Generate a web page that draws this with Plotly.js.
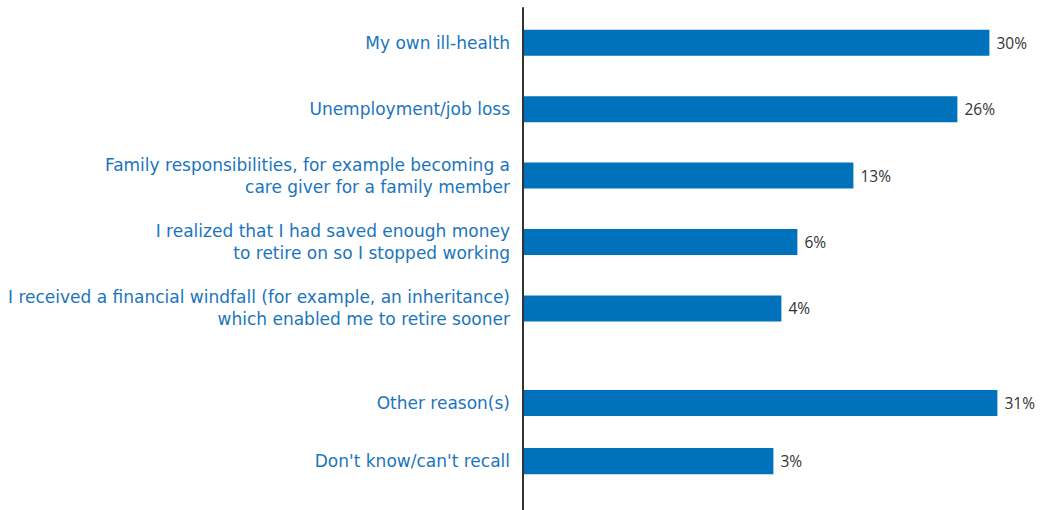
<!DOCTYPE html>
<html>
<head>
<meta charset="utf-8">
<script src="https://cdn.plot.ly/plotly-3.0.1.min.js"></script>
<style>html,body{margin:0;padding:0;background:#fff;}#chart{width:1040px;height:510px;}</style>
</head>
<body>
<div id="chart"></div>
<script>
// Reasons (main group)
const topCategories = [
  "My own ill-health",
  "Unemployment/job loss",
  "Family responsibilities, for example becoming a<br>care giver for a family member",
  "I realized that I had saved enough money<br>to retire on so I stopped working",
  "I received a financial windfall (for example, an inheritance)<br>which enabled me to retire sooner"
];
const topValues = [30, 26, 13, 6, 4];

// Other answers
const bottomCategories = ["Other reason(s)", "Don't know/can't recall"];
const bottomValues = [31, 3];

const barColor = "#0071bb";
const labelColor = "#1b75bc";
const valueColor = "#333333";
const labelFont = "'DejaVu Sans', sans-serif";
const valueFont = "'Open Sans', sans-serif";
const axisStart = -28.3;   // value axis starts below zero, bars drawn from the axis line

function pct(arr) { return arr.map(v => " " + v + "%"); }
function lengths(arr) { return arr.map(v => v - axisStart); }

const traces = [
  {
    type: "bar", orientation: "h",
    y: topCategories, x: lengths(topValues), base: axisStart,
    text: pct(topValues), textposition: "outside", cliponaxis: false,
    textfont: {family: valueFont, size: 15.5, color: valueColor},
    marker: {color: barColor}, width: 0.392,
    xaxis: "x", yaxis: "y", hoverinfo: "skip"
  },
  {
    type: "bar", orientation: "h",
    y: bottomCategories, x: lengths(bottomValues), base: axisStart,
    text: pct(bottomValues), textposition: "outside", cliponaxis: false,
    textfont: {family: valueFont, size: 15.5, color: valueColor},
    marker: {color: barColor}, width: 0.45,
    xaxis: "x", yaxis: "y2", hoverinfo: "skip"
  }
];

const yCommon = {
  autorange: "reversed", type: "category", showgrid: false, zeroline: false,
  showline: false, ticks: "", ticklabelstandoff: 12,
  tickfont: {family: labelFont, size: 17, color: labelColor}
};

const layout = {
  width: 1040, height: 510,
  margin: {l: 523, r: 0, t: 0, b: 0},
  paper_bgcolor: "#ffffff", plot_bgcolor: "#ffffff",
  showlegend: false,
  xaxis: {range: [axisStart, axisStart + 517 / 8], visible: false, fixedrange: true},
  yaxis: Object.assign({}, yCommon, {domain: [0.3302, 0.9812], anchor: "x"}),
  yaxis2: Object.assign({}, yCommon, {domain: [0.039, 0.2667], anchor: "x"}),
  shapes: [{
    type: "line", xref: "paper", yref: "paper",
    x0: 0, x1: 0, y0: 0, y1: 0.986,
    line: {color: "#333333", width: 2}
  }]
};

Plotly.newPlot("chart", traces, layout, {displayModeBar: false, staticPlot: true});
</script>
</body>
</html>
